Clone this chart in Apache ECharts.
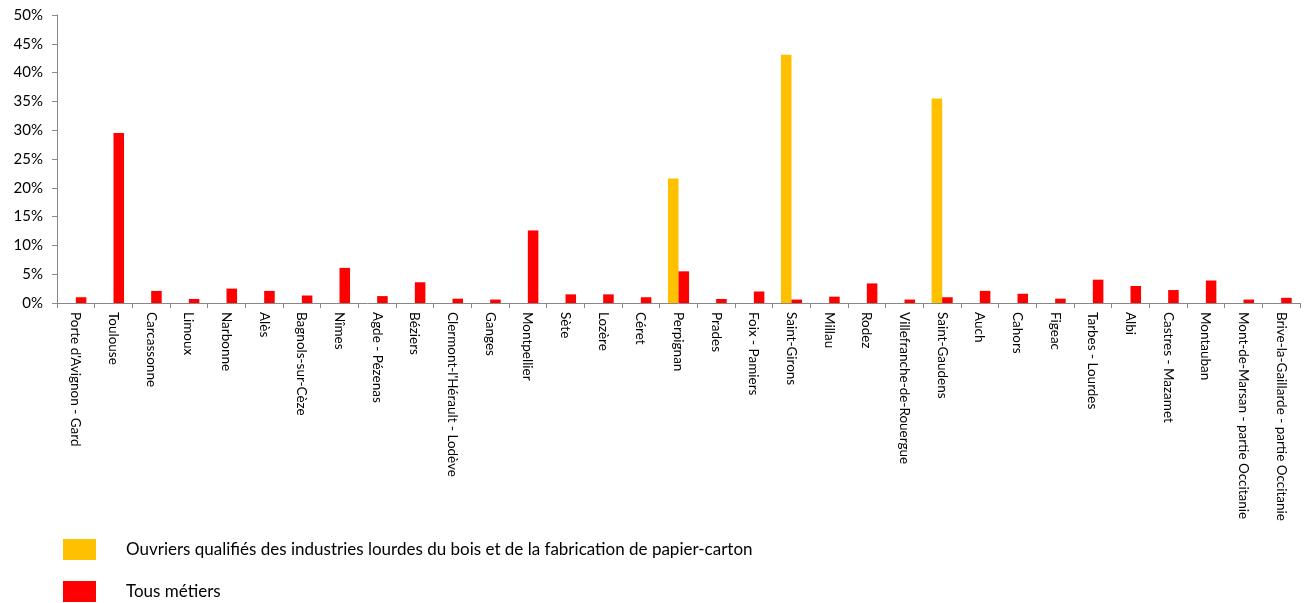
<!DOCTYPE html>
<html>
<head>
<meta charset="utf-8">
<script src="https://cdn.jsdelivr.net/npm/echarts@6/dist/echarts.min.js"></script>
<style>
  html, body { margin: 0; padding: 0; background: #fff; }
  #chart { width: 1304px; height: 603px; }
</style>
</head>
<body>
<div id="chart"></div>
<script>
var categories = [
  "Porte d'Avignon - Gard", 'Toulouse', 'Carcassonne', 'Limoux', 'Narbonne', 'Alès',
  'Bagnols-sur-Cèze', 'Nîmes', 'Agde - Pézenas', 'Béziers', "Clermont-l'Hérault - Lodève",
  'Ganges', 'Montpellier', 'Sète', 'Lozère', 'Céret', 'Perpignan', 'Prades', 'Foix - Pamiers',
  'Saint-Girons', 'Millau', 'Rodez', 'Villefranche-de-Rouergue', 'Saint-Gaudens', 'Auch',
  'Cahors', 'Figeac', 'Tarbes - Lourdes', 'Albi', 'Castres - Mazamet', 'Montauban',
  'Mont-de-Marsan - partie Occitanie', 'Brive-la-Gaillarde - partie Occitanie'
];

// share of jobs, in %
var ouvriersBois = [
  0, 0, 0, 0, 0, 0, 0, 0, 0, 0, 0, 0, 0, 0, 0, 0, 21.6, 0, 0, 43.1, 0, 0, 0, 35.5,
  0, 0, 0, 0, 0, 0, 0, 0, 0
];
var tousMetiers = [
  1.0, 29.5, 2.1, 0.7, 2.5, 2.1, 1.3, 6.1, 1.2, 3.6, 0.75, 0.6, 12.6, 1.5, 1.5, 1.0,
  5.5, 0.7, 2.0, 0.6, 1.1, 3.4, 0.6, 1.0, 2.1, 1.6, 0.75, 4.05, 2.95, 2.25, 3.9, 0.6, 0.9
];

var seriesNames = [
  'Ouvriers qualifiés des industries lourdes du bois et de la fabrication de papier-carton',
  'Tous métiers'
];

var font = 'Lato, "DejaVu Sans", sans-serif';
var chart = echarts.init(document.getElementById('chart'));

chart.setOption({
  animation: false,
  backgroundColor: '#fff',
  textStyle: { fontFamily: font },
  grid: { left: 57, right: 4, top: 15, bottom: 300, containLabel: false },
  legend: {
    orient: 'vertical',
    left: 63,
    top: 539,
    height: 70,
    padding: 0,
    icon: 'rect',
    itemWidth: 33,
    itemHeight: 21,
    itemGap: 21,
    textStyle: { fontSize: 17, color: '#000', fontFamily: font, padding: [0, 0, 0, 25] },
    data: seriesNames
  },
  xAxis: {
    type: 'category',
    data: categories,
    axisLine: { lineStyle: { color: '#888' } },
    axisTick: { show: true, length: 5, lineStyle: { color: '#888' } },
    axisLabel: {
      interval: 0,
      rotate: -90,
      color: '#000',
      fontSize: 13.5,
      fontFamily: font,
      margin: 9
    }
  },
  yAxis: {
    type: 'value',
    min: 0,
    max: 50,
    interval: 5,
    axisLine: { show: true, lineStyle: { color: '#888' } },
    axisTick: { show: true, length: 5, lineStyle: { color: '#888' } },
    splitLine: { show: false },
    axisLabel: {
      color: '#000',
      fontSize: 15,
      fontFamily: font,
      margin: 14,
      formatter: '{value}%'
    }
  },
  series: [
    {
      name: seriesNames[0],
      type: 'bar',
      data: ouvriersBois,
      barWidth: '28%',
      barGap: '0%',
      itemStyle: { color: '#FFC000' }
    },
    {
      name: seriesNames[1],
      type: 'bar',
      data: tousMetiers,
      barWidth: '28%',
      itemStyle: { color: '#FF0000' }
    }
  ]
});
</script>
</body>
</html>
